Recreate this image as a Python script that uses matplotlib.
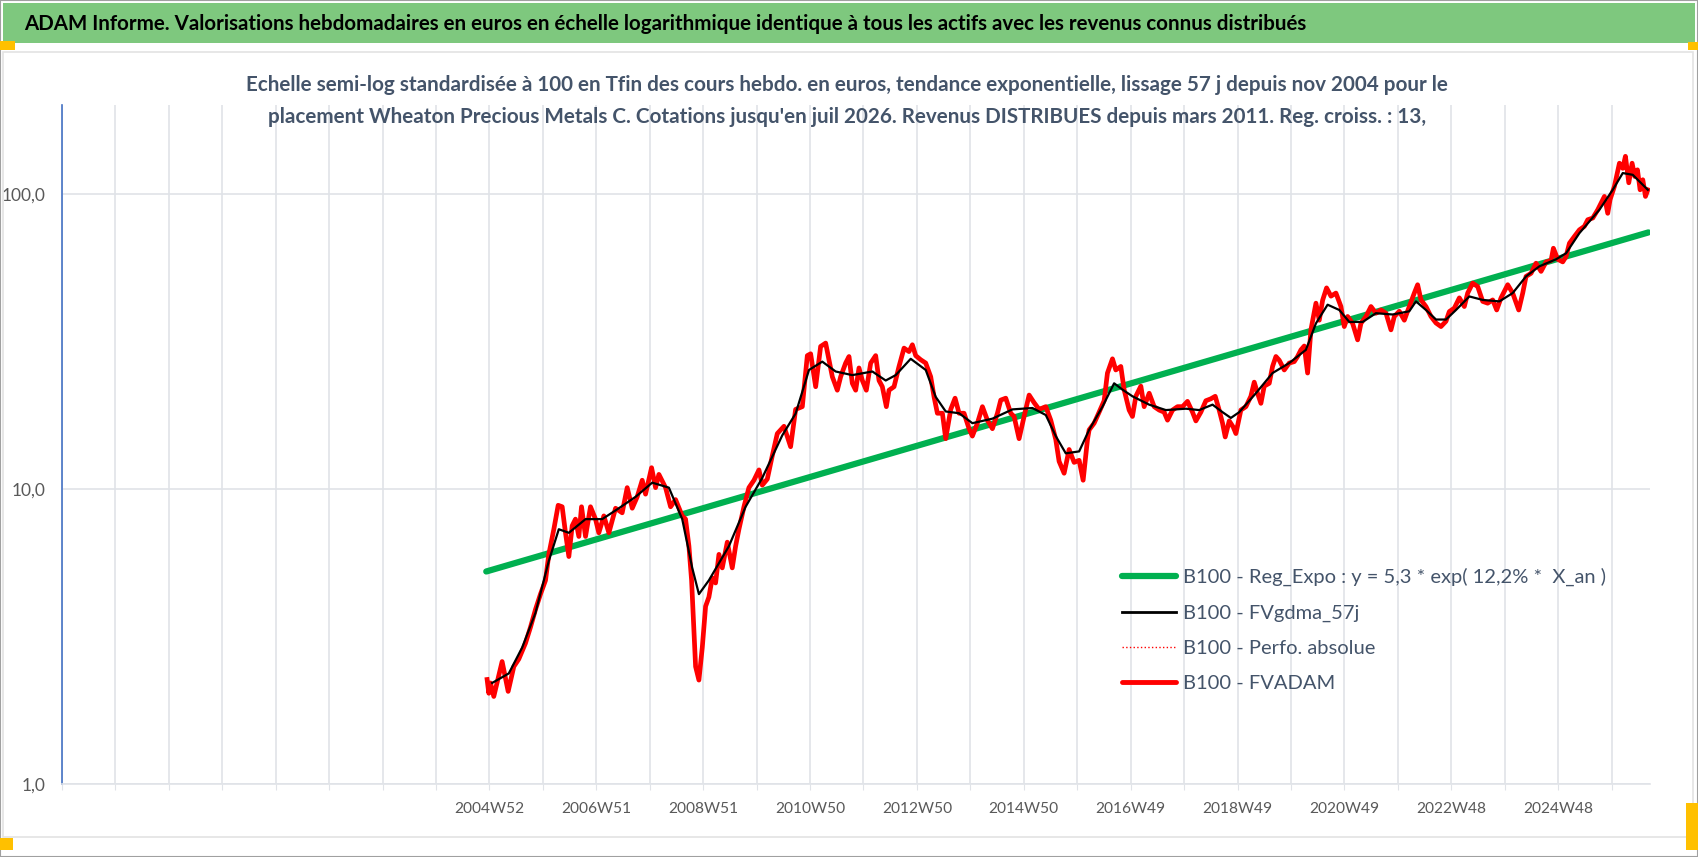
import numpy as np
import matplotlib
matplotlib.use("Agg")
import matplotlib.pyplot as plt
from matplotlib.patches import Rectangle
from matplotlib.lines import Line2D

plt.rcParams['font.family'] = ['Lato', 'DejaVu Sans']

# annees depuis 2004W52 / valeurs base 100
an_fvadam = [-0.044, -0.012, 0.019, 0.081, 0.237, 0.350, 0.456, 0.549, 0.674, 0.768,
             0.861, 0.955, 1.049, 1.111, 1.205, 1.286, 1.361, 1.423, 1.486, 1.548,
             1.610, 1.673, 1.723, 1.798, 1.891, 1.985, 2.047, 2.141, 2.235, 2.360,
             2.484, 2.578, 2.672, 2.765, 2.859, 2.921, 3.034, 3.109, 3.171, 3.296,
             3.390, 3.483, 3.608, 3.670, 3.733, 3.783, 3.826, 3.858, 3.920, 3.983,
             4.045, 4.107, 4.170, 4.232, 4.295, 4.357, 4.451, 4.544, 4.607, 4.669,
             4.763, 4.856, 4.950, 5.044, 5.106, 5.200, 5.287, 5.387, 5.512,
             5.636, 5.730, 5.855, 5.949, 6.011, 6.105, 6.198, 6.292, 6.354, 6.417,
             6.510, 6.573, 6.666, 6.729, 6.791, 6.854, 6.916, 6.979, 7.053, 7.135,
             7.228, 7.291, 7.353, 7.428, 7.478, 7.572, 7.665, 7.759, 7.852, 7.915,
             7.977, 8.071, 8.165, 8.258, 8.321, 8.383, 8.477, 8.539, 8.633, 8.714,
             8.789, 8.882, 8.976, 9.038, 9.132, 9.226, 9.319, 9.413, 9.507, 9.569,
             9.663, 9.756, 9.819, 9.912, 10.006, 10.100, 10.193, 10.287, 10.412, 10.505,
             10.599, 10.661, 10.755, 10.849, 10.942, 11.036, 11.111, 11.192,
             11.223, 11.317, 11.410, 11.504, 11.566, 11.660, 11.722, 11.816, 11.878, 11.972,
             12.034, 12.097, 12.191, 12.253, 12.347, 12.440, 12.534, 12.627, 12.690, 12.784,
             12.877, 12.971, 13.064, 13.158, 13.221, 13.314, 13.408, 13.501, 13.583, 13.657,
             13.720, 13.770, 13.845, 13.920, 13.970, 14.063, 14.157, 14.250, 14.313, 14.375,
             14.438, 14.500, 14.594, 14.656, 14.719, 14.781, 14.875, 14.968, 15.062, 15.124,
             15.187, 15.249, 15.312, 15.374, 15.468, 15.530, 15.593, 15.667, 15.749, 15.842,
             15.936, 15.998, 16.061, 16.154, 16.248, 16.310, 16.404, 16.498, 16.591, 16.685,
             16.779, 16.872, 16.935, 17.028, 17.122,
             17.215, 17.309, 17.371, 17.434, 17.527, 17.621, 17.715, 17.808, 17.902, 17.964,
             18.058, 18.152, 18.245, 18.308, 18.401, 18.495, 18.589, 18.682, 18.776, 18.851,
             18.932, 19.057, 19.150, 19.263, 19.338, 19.400, 19.494, 19.587, 19.681, 19.775,
             19.868, 19.912, 19.993, 20.087, 20.149, 20.212, 20.305, 20.399, 20.492, 20.555,
             20.649, 20.742, 20.805, 20.867, 20.929, 20.973, 21.054, 21.148, 21.210, 21.260,
             21.323, 21.385, 21.435, 21.485, 21.535, 21.585, 21.635, 21.679]
val_fvadam = [2.26, 2.03, 2.2, 1.98, 2.6, 2.06, 2.5, 2.65, 3.0, 3.4,
              3.9, 4.4, 4.9, 6.0, 7.3, 8.8, 8.7, 7.1, 5.9, 7.5,
              7.9, 6.9, 8.7, 6.9, 8.7, 7.9, 7.1, 8.1, 7.1, 8.6,
              8.3, 10.1, 8.6, 9.4, 10.7, 9.6, 11.8, 10.1, 11.2, 10.1,
              8.7, 9.2, 8.1, 7.9, 6.4, 4.9, 3.3, 2.5, 2.25, 2.9,
              4.0, 4.3, 5.0, 4.8, 6.0, 5.4, 6.6, 5.4, 6.4, 7.3,
              8.7, 10.1, 10.7, 11.6, 10.3, 10.8, 12.8, 15.4, 16.3,
              13.9, 18.6, 19.0, 28.3, 28.7, 22.2, 30.4, 31.2, 27.4, 24.0,
              21.6, 24.0, 26.7, 28.1, 22.8, 21.6, 25.7, 23.3, 21.6, 26.7,
              28.3, 23.3, 22.2, 19.0, 21.6, 22.2, 26.0, 30.0, 29.2, 30.8,
              28.3, 27.4, 26.7, 24.0, 20.5, 18.05, 18.05, 14.8, 18.6, 20.3,
              18.05, 18.05, 16.0, 15.1, 16.7, 19.0, 17.1, 16.0, 18.05, 20.0,
              20.3, 18.05, 17.6, 14.8, 17.6, 20.8, 19.6, 18.6, 19.0, 17.1,
              14.7, 12.4, 11.3, 13.6, 12.3, 12.5, 10.7, 14.7,
              15.85, 16.7, 18.2, 19.9, 24.7, 27.6, 25.3, 26.0, 21.7, 18.5,
              17.6, 20.6, 22.3, 19.0, 21.1, 19.0, 18.5, 18.2, 17.1, 18.5,
              19.0, 19.0, 19.8, 18.2, 17.0, 18.2, 19.9, 20.2, 20.6, 18.5,
              16.7, 15.0, 17.0, 16.2, 15.4, 18.5, 19.0, 20.6, 23.0, 21.1,
              19.5, 22.3, 22.8, 26.0, 28.1, 27.3, 25.3, 26.7, 27.0, 28.1,
              29.6, 30.5, 24.7, 34.6, 42.6, 37.3, 43.6, 48.0, 45.0, 46.1,
              41.5, 35.5, 38.4, 36.4, 32.0, 36.4, 38.4, 41.5, 39.4, 40.4,
              39.4, 34.6, 38.4, 40.0, 37.3,
              41.5, 46.1, 49.2, 43.7, 41.5, 38.4, 36.5, 35.5, 37.0, 39.9,
              41.0, 44.4, 41.5, 46.1, 49.8, 48.5, 43.2, 42.6, 43.7, 40.4,
              44.4, 49.2, 46.1, 40.4, 46.1, 52.5, 53.8, 58.2, 54.6, 58.8,
              59.4, 65.4, 60.0, 58.8, 61.3, 68.0, 71.7, 75.5, 77.6, 81.7,
              82.8, 88.3, 93.0, 98.0, 85.9, 95.6, 106.0, 127.0, 122.0, 134.0,
              109.0, 127.0, 114.5, 120.6, 103.2, 111.6, 98.0, 103.2]

an_gdma = [0.050, 0.362, 0.612, 0.861, 1.111, 1.298, 1.486, 1.798, 2.110, 2.422,
           2.734, 3.046, 3.358, 3.608, 3.795, 3.920, 4.107, 4.482, 4.794, 5.106,
           5.481, 5.730, 5.980, 6.229, 6.479, 6.791, 7.166, 7.416, 7.603, 7.884,
           8.165, 8.352, 8.539, 8.789, 9.038, 9.413, 9.788, 10.162, 10.412, 10.599,
           10.786, 11.036, 11.223, 11.473, 11.691, 11.847, 12.034, 12.347, 12.659, 13.033,
           13.283, 13.533, 13.720, 13.876, 14.032, 14.344, 14.656, 14.968, 15.280, 15.468,
           15.686, 15.905, 16.092, 16.342, 16.591, 16.903, 17.215, 17.340, 17.527, 17.715,
           17.902, 18.089, 18.339, 18.589, 18.901, 19.150, 19.400, 19.650, 19.962, 20.149,
           20.399, 20.773, 21.023, 21.210, 21.397, 21.679]
val_gdma = [2.2, 2.37, 2.9, 3.8, 5.7, 7.3, 7.1, 7.9, 7.9, 8.6,
            9.4, 10.5, 10.1, 7.9, 5.4, 4.4, 4.9, 6.4, 8.7, 10.9,
            15.2, 18.0, 25.3, 27.0, 25.0, 24.3, 25.0, 23.3, 24.3, 27.6,
            25.3, 20.5, 18.3, 18.05, 16.7, 17.3, 18.6, 18.8, 17.8, 15.1,
            13.2, 13.4, 15.85, 19.0, 22.8, 21.7, 20.6, 19.3, 18.5, 18.7,
            18.5, 19.3, 18.2, 17.4, 18.2, 21.1, 24.7, 26.7, 29.6, 36.4,
            42.1, 40.4, 36.8, 36.8, 39.4, 39.0, 40.0, 43.2, 40.4, 37.5,
            37.5, 40.4, 44.9, 43.7, 43.2, 46.1, 52.5, 56.8, 60.0, 62.9,
            73.6, 88.3, 103.2, 117.6, 116.0, 103.2]

an_reg = [-0.06, 21.69]
val_reg = [5.25, 74.0]

tick_labels = ['2004W52', '2006W51', '2008W51', '2010W50', '2012W50', '2014W50',
               '2016W49', '2018W49', '2020W49', '2022W48', '2024W48']

TXT = '#44546A'
GRAY = '#595959'
GRID = '#E0E3E8'

fig = plt.figure(figsize=(16.98, 8.57), dpi=100)
W, H = 1698, 857

def fx(px):
    return px / W

def fy(py):
    return 1 - py / H

# cadre et bandeau titre
fig.patches.append(Rectangle((0, 0), 1, 1, transform=fig.transFigure, fill=False,
                             edgecolor='#A0A0A0', linewidth=1.5))
fig.patches.append(Rectangle((fx(3), fy(43)), fx(1692), 40 / H, transform=fig.transFigure,
                             facecolor='#7EC87E', edgecolor='none'))
fig.patches.append(Rectangle((fx(3), fy(837)), fx(1690), (837 - 52) / H, transform=fig.transFigure,
                             fill=False, edgecolor='#E3E3E3', linewidth=1.2))
for (x0, y0, w, h) in [(0, 41, 15, 9), (0, 838, 13, 12), (1688, 42, 10, 8), (1686, 803, 12, 47)]:
    fig.patches.append(Rectangle((fx(x0), fy(y0 + h)), fx(w), h / H, transform=fig.transFigure,
                                 facecolor='#FFC000', edgecolor='none'))

fig.text(fx(24), fy(24), "ADAM Informe. Valorisations hebdomadaires en euros en échelle logarithmique "
         "identique à tous les actifs avec les revenus connus distribués",
         fontsize=14.8, fontweight='bold', color='black', ha='left', va='center')
fig.text(fx(847), fy(85), "Echelle semi-log standardisée à 100 en Tfin des cours hebdo. en euros, "
         "tendance exponentielle, lissage 57 j depuis nov 2004 pour le",
         fontsize=14.9, fontweight='bold', color=TXT, ha='center', va='center')
fig.text(fx(847), fy(117), "placement Wheaton Precious Metals C. Cotations jusqu'en juil 2026. "
         "Revenus DISTRIBUES depuis mars 2011. Reg. croiss. : 13,",
         fontsize=14.9, fontweight='bold', color=TXT, ha='center', va='center')

ax = fig.add_axes([fx(62), fy(784), fx(1650 - 62), (784 - 105) / H])
ax.set_yscale('log')
ax.set_ylim(1, 200)
ax.set_xlim(-8, 21.72)

ax.plot(an_reg, val_reg, color='#00B050', linewidth=4.5, solid_capstyle='round', zorder=3)
ax.plot(an_fvadam, val_fvadam, color='red', linewidth=1, linestyle=':', zorder=2)
ax.plot(an_fvadam, val_fvadam, color='red', linewidth=3.4, zorder=3.5)
ax.plot(an_gdma, val_gdma, color='black', linewidth=1.6, zorder=4)

ax.set_yticks([1, 10, 100])
ax.set_yticklabels(['1,0', '10,0', '100,0'])
ax.yaxis.set_minor_locator(matplotlib.ticker.NullLocator())
ax.set_xticks(np.arange(-8, 22, 1))
ax.set_xticklabels([''] * 8 + [tick_labels[i // 2] if i % 2 == 0 else '' for i in range(22)])
ax.tick_params(axis='x', length=4, color=GRID, labelsize=11.2, labelcolor=GRAY, pad=9)
ax.tick_params(axis='y', length=0, labelsize=12.5, labelcolor=GRAY, pad=12)
ax.grid(True, which='major', color=GRID, linewidth=1.2)
ax.set_axisbelow(True)
for s in ['top', 'right']:
    ax.spines[s].set_visible(False)
ax.spines['left'].set_color('#4472C4')
ax.spines['left'].set_linewidth(1.2)
ax.spines['bottom'].set_color(GRID)
ax.spines['bottom'].set_linewidth(1.2)

handles = [Line2D([], [], color='#00B050', linewidth=4.5, solid_capstyle='round'),
           Line2D([], [], color='black', linewidth=2),
           Line2D([], [], color='red', linewidth=1, linestyle=':'),
           Line2D([], [], color='red', linewidth=3.5, solid_capstyle='round')]
labels = ['B100 - Reg_Expo : y = 5,3 * exp( 12,2% *  X_an )', 'B100 - FVgdma_57j',
          'B100 - Perfo. absolue', 'B100 - FVADAM']
fig.legend(handles, labels, loc='upper left', bbox_to_anchor=(fx(1122), fy(568)),
           frameon=False, fontsize=14.5, labelcolor=TXT, handlelength=2.7,
           handletextpad=0.35, labelspacing=0.9, borderpad=0, borderaxespad=0)

fig.savefig('out.png', dpi=100)
